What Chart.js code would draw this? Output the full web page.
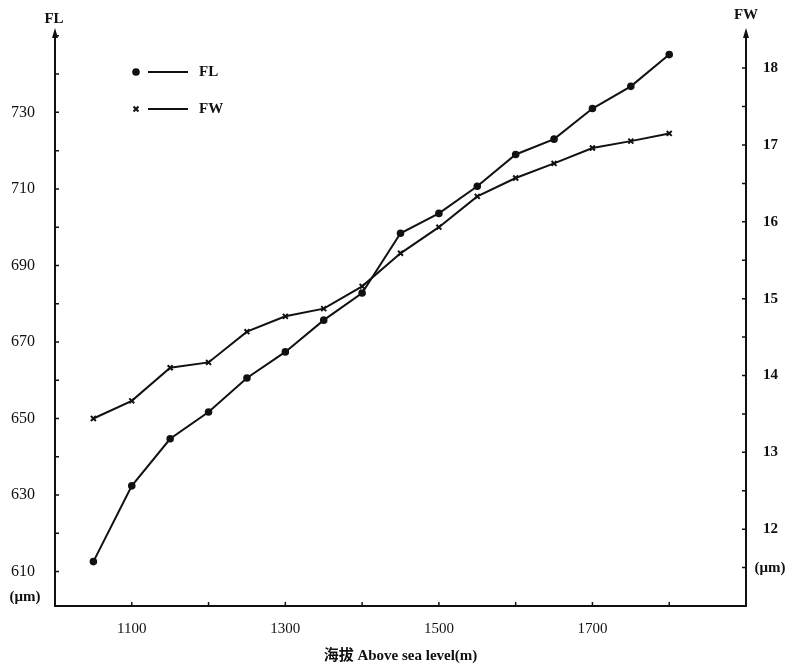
<!DOCTYPE html>
<html>
<head>
<meta charset="utf-8">
<script src="https://cdn.jsdelivr.net/npm/chart.js@4.4.0/dist/chart.umd.min.js"></script>
<style>
  html, body { margin: 0; padding: 0; background: #fff; }
</style>
</head>
<body>
<canvas id="myChart" width="794" height="665"></canvas>
<script>
// altitude (m) of each sample
var altitudes = [1050, 1100, 1150, 1200, 1250, 1300, 1350, 1400, 1450, 1500, 1550, 1600, 1650, 1700, 1750, 1800];
// FL (um), left axis
var flValues = [612.6, 632.4, 644.7, 651.7, 660.6, 667.4, 675.7, 682.8, 698.4, 703.6, 710.7, 719.0, 723.0, 731.0, 736.8, 745.1];
// FW (um), right axis
var fwValues = [13.44, 13.67, 14.10, 14.17, 14.57, 14.77, 14.87, 15.16, 15.59, 15.93, 16.33, 16.57, 16.76, 16.96, 17.05, 17.15];

// tick labels
var xTicks = [1100, 1300, 1500, 1700];
var flTicks = [610, 630, 650, 670, 690, 710, 730];
var fwTicks = [12, 13, 14, 15, 16, 17, 18];

var ink = "#111";
var serif = "'Liberation Serif', 'DejaVu Serif', 'Noto Sans CJK SC', serif";

function pts(ys) {
  return altitudes.map(function (x, i) { return { x: x, y: ys[i] }; });
}

function plain(v) { return String(v); }

// axes arrows, small inward ticks, unit labels and the hand-placed legend
var decor = {
  id: "decor",
  afterDraw: function (chart) {
    var ctx = chart.ctx;
    var a = chart.chartArea;
    var sx = chart.scales.x, sl = chart.scales.yL, sr = chart.scales.yR;
    var v, p;
    ctx.save();
    ctx.strokeStyle = ink;
    ctx.fillStyle = ink;
    ctx.lineWidth = 1.5;

    ctx.beginPath();
    for (v = 610; v <= 750; v += 10) {
      p = sl.getPixelForValue(v);
      ctx.moveTo(a.left, p); ctx.lineTo(a.left + 4, p);
    }
    for (v = 11.5; v <= 18; v += 0.5) {
      p = sr.getPixelForValue(v);
      ctx.moveTo(a.right, p); ctx.lineTo(a.right - 4, p);
    }
    for (v = 1100; v <= 1800; v += 100) {
      p = sx.getPixelForValue(v);
      ctx.moveTo(p, a.bottom); ctx.lineTo(p, a.bottom - 4);
    }
    ctx.stroke();

    [a.left, a.right].forEach(function (x) {
      ctx.beginPath();
      ctx.moveTo(x, a.top - 4);
      ctx.lineTo(x - 3, a.top + 6);
      ctx.lineTo(x + 3, a.top + 6);
      ctx.closePath();
      ctx.fill();
    });

    ctx.font = "bold 15px " + serif;
    ctx.textAlign = "center";
    ctx.textBaseline = "middle";
    ctx.fillText("FL", 54, 19);
    ctx.fillText("FW", 746, 15);
    ctx.fillText("(\u03bcm)", 25, 597);
    ctx.fillText("(\u03bcm)", 770, 568);

    // legend
    var rows = [72, 109];
    ctx.textAlign = "left";
    chart.data.datasets.forEach(function (ds, i) {
      var y = rows[i];
      ctx.lineWidth = 2;
      Chart.helpers.drawPoint(ctx, { pointStyle: ds.pointStyle, radius: ds.pointRadius, borderWidth: 2, rotation: 0 }, 136, y);
      ctx.beginPath();
      ctx.moveTo(148, y); ctx.lineTo(188, y);
      ctx.stroke();
      ctx.fillText(ds.label, 199, y);
    });
    ctx.restore();
  }
};

var ctx = document.getElementById("myChart").getContext("2d");

var chart = new Chart(ctx, {
  type: "line",
  data: {
    datasets: [
      {
        label: "FL",
        data: pts(flValues),
        yAxisID: "yL",
        borderColor: ink,
        backgroundColor: ink,
        borderWidth: 2,
        pointStyle: "circle",
        pointRadius: 2.8,
        tension: 0
      },
      {
        label: "FW",
        data: pts(fwValues),
        yAxisID: "yR",
        borderColor: ink,
        backgroundColor: ink,
        borderWidth: 2,
        pointStyle: "crossRot",
        pointRadius: 3.5,
        pointBorderWidth: 2,
        tension: 0
      }
    ]
  },
  options: {
    responsive: false,
    animation: false,
    layout: { padding: { top: 32 } },
    plugins: {
      legend: { display: false },
      tooltip: { enabled: false }
    },
    scales: {
      x: {
        type: "linear",
        position: "bottom",
        min: 1000,
        max: 1900,
        afterBuildTicks: function (s) { s.ticks = xTicks.map(function (v) { return { value: v }; }); },
        afterFit: function (s) { s.height = 59; },
        grid: { display: false },
        border: { display: true, color: ink, width: 2 },
        ticks: { color: ink, font: { family: serif, size: 15 }, padding: 6, maxRotation: 0, callback: plain },
        title: {
          display: true,
          text: "海拔 Above sea level(m)",
          color: ink,
          font: { family: serif, size: 15, weight: "bold" },
          padding: { top: 0, bottom: 0 }
        }
      },
      yL: {
        type: "linear",
        position: "left",
        min: 601,
        max: 751,
        afterBuildTicks: function (s) { s.ticks = flTicks.map(function (v) { return { value: v }; }); },
        afterFit: function (s) { s.width = 55; },
        grid: { display: false },
        border: { display: true, color: ink, width: 2 },
        ticks: { color: ink, font: { family: serif, size: 16 }, padding: 12, callback: plain }
      },
      yR: {
        type: "linear",
        position: "right",
        min: 11,
        max: 18.47,
        afterBuildTicks: function (s) { s.ticks = fwTicks.map(function (v) { return { value: v }; }); },
        afterFit: function (s) { s.width = 48; },
        grid: { display: false },
        border: { display: true, color: ink, width: 2 },
        ticks: { color: ink, font: { family: serif, size: 15, weight: "bold" }, padding: 9, callback: plain }
      }
    }
  },
  plugins: [decor]
});
</script>
</body>
</html>
